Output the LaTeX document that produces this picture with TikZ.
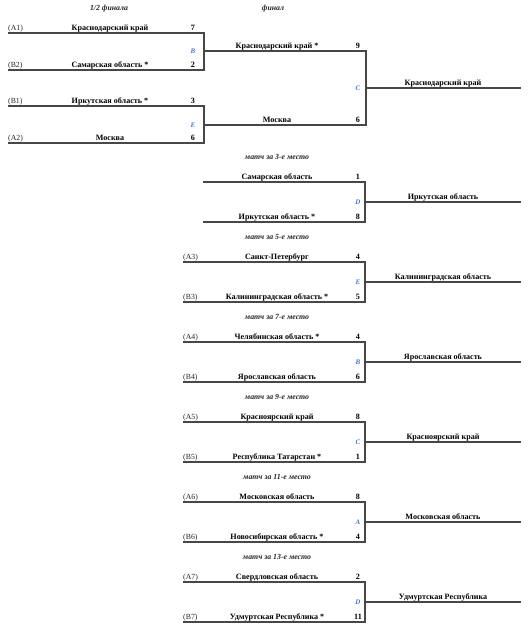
\documentclass[tikz,border=0pt]{standalone}
\usepackage{fontspec}
\setmainfont{Liberation Serif}
\tikzset{
  x=1pt, y=-1pt,
  bline/.style={draw=black!72, line width=1.3pt},
  team/.style={anchor=base, inner sep=0pt, font=\fontsize{8.1}{9}\selectfont\bfseries},
  code/.style={anchor=base west, inner sep=0pt, font=\fontsize{7.8}{9}\selectfont, text=black!85},
  score/.style={anchor=base, inner sep=0pt, font=\fontsize{8.1}{9}\selectfont\bfseries},
  letter/.style={anchor=center, inner sep=0pt, font=\fontsize{7}{8}\selectfont\bfseries\itshape, text={rgb,255:red,60;green,120;blue,200}},
  ttl/.style={anchor=center, inner sep=0pt, font=\fontsize{7.8}{8}\selectfont\bfseries\itshape, text=black!85},
}
% #1 id, #2 top y, #3 codeA, #4 teamA, #5 scoreA, #6 codeB, #7 teamB, #8 scoreB, #9 letter
\newcommand\lowblock[9]{%
  \coordinate (#1tl) at (\blkleft,#2);
  \coordinate (#1tr) at (365,#2);
  \coordinate (#1bl) at (\blkleft,#2+40);
  \coordinate (#1br) at (365,#2+40);
  \coordinate (#1m) at (365,#2+20);
  \coordinate (#1e) at (521,#2+20);
  \draw[bline] (#1tl) -- (#1tr) -- (#1br) -- (#1bl);
  \draw[bline] (#1m) -- (#1e);
  \node[code] (#1ca) at (\blkleft,#2-3) {#3};
  \node[code] (#1cb) at (\blkleft,#2+37) {#6};
  \node[team] (#1ta) at (277,#2-3) {#4};
  \node[team] (#1tb) at (277,#2+37) {#7};
  \node[score] (#1sa) at (358,#2-3) {#5};
  \node[score] (#1sb) at (358,#2+37) {#8};
  \node[letter] (#1l) at (358,#2+20) {#9};
}
\begin{document}
\begin{tikzpicture}
\useasboundingbox (0,0) rectangle (529,632);
% titles
\node[ttl] (t1) at (109,9) {1/2 финала};
\node[ttl] (t2) at (273,9) {финал};
% semifinal 1
\coordinate (s1tl) at (8,33); \coordinate (s1tr) at (204,33);
\coordinate (s1bl) at (8,70); \coordinate (s1br) at (204,70);
\coordinate (s1m) at (204,51);
\draw[bline] (s1tl) -- (s1tr) -- (s1br) -- (s1bl);
\node[code] (s1ca) at (8,30) {(A1)};
\node[code] (s1cb) at (8,67) {(B2)};
\node[team] (s1ta) at (110,30) {Краснодарский край};
\node[team] (s1tb) at (110,67) {Самарская область *};
\node[score] (s1sa) at (193,30) {7};
\node[score] (s1sb) at (193,67) {2};
\node[letter] (s1l) at (193,51.5) {B};
% semifinal 2
\coordinate (s2tl) at (8,106); \coordinate (s2tr) at (204,106);
\coordinate (s2bl) at (8,143); \coordinate (s2br) at (204,143);
\coordinate (s2m) at (204,125);
\draw[bline] (s2tl) -- (s2tr) -- (s2br) -- (s2bl);
\node[code] (s2ca) at (8,103) {(B1)};
\node[code] (s2cb) at (8,140) {(A2)};
\node[team] (s2ta) at (110,103) {Иркутская область *};
\node[team] (s2tb) at (110,140) {Москва};
\node[score] (s2sa) at (193,103) {3};
\node[score] (s2sb) at (193,140) {6};
\node[letter] (s2l) at (193,125) {E};
% final
\coordinate (fr1) at (366,51); \coordinate (fr2) at (366,125);
\coordinate (fm) at (366,88); \coordinate (fe) at (521,88);
\draw[bline] (s1m) -- (fr1) -- (fr2) -- (s2m);
\draw[bline] (fm) -- (fe);
\node[team] (fta) at (277,48) {Краснодарский край *};
\node[team] (ftb) at (277,122) {Москва};
\node[score] (fsa) at (358,48) {9};
\node[score] (fsb) at (358,122) {6};
\node[letter] (fl) at (358,88) {C};
\node[team] (fw) at (443,85) {Краснодарский край};
% 3rd place
\def\blkleft{203}
\node[ttl] (t3) at (277,157) {матч за 3-е место};
\lowblock{m3}{182}{}{Самарская область}{1}{}{Иркутская область *}{8}{D}
\node[team] (m3w) at (443,199) {Иркутская область};
\def\blkleft{183}
\node[ttl] (t5) at (277,237) {матч за 5-е место};
\lowblock{m5}{262}{(A3)}{Санкт-Петербург}{4}{(B3)}{Калининградская область *}{5}{E}
\node[team] (m5w) at (443,279) {Калининградская область};
\node[ttl] (t7) at (277,317) {матч за 7-е место};
\lowblock{m7}{342}{(A4)}{Челябинская область *}{4}{(B4)}{Ярославская область}{6}{B}
\node[team] (m7w) at (443,359) {Ярославская область};
\node[ttl] (t9) at (277,397) {матч за 9-е место};
\lowblock{m9}{422}{(A5)}{Красноярский край}{8}{(B5)}{Республика Татарстан *}{1}{C}
\node[team] (m9w) at (443,439) {Красноярский край};
\node[ttl] (t11) at (277,477) {матч за 11-е место};
\lowblock{m11}{502}{(A6)}{Московская область}{8}{(B6)}{Новосибирская область *}{4}{A}
\node[team] (m11w) at (443,519) {Московская область};
\node[ttl] (t13) at (277,557) {матч за 13-е место};
\lowblock{m13}{582}{(A7)}{Свердловская область}{2}{(B7)}{Удмуртская Республика *}{11}{D}
\node[team] (m13w) at (443,599) {Удмуртская Республика};
\end{tikzpicture}
\end{document}
